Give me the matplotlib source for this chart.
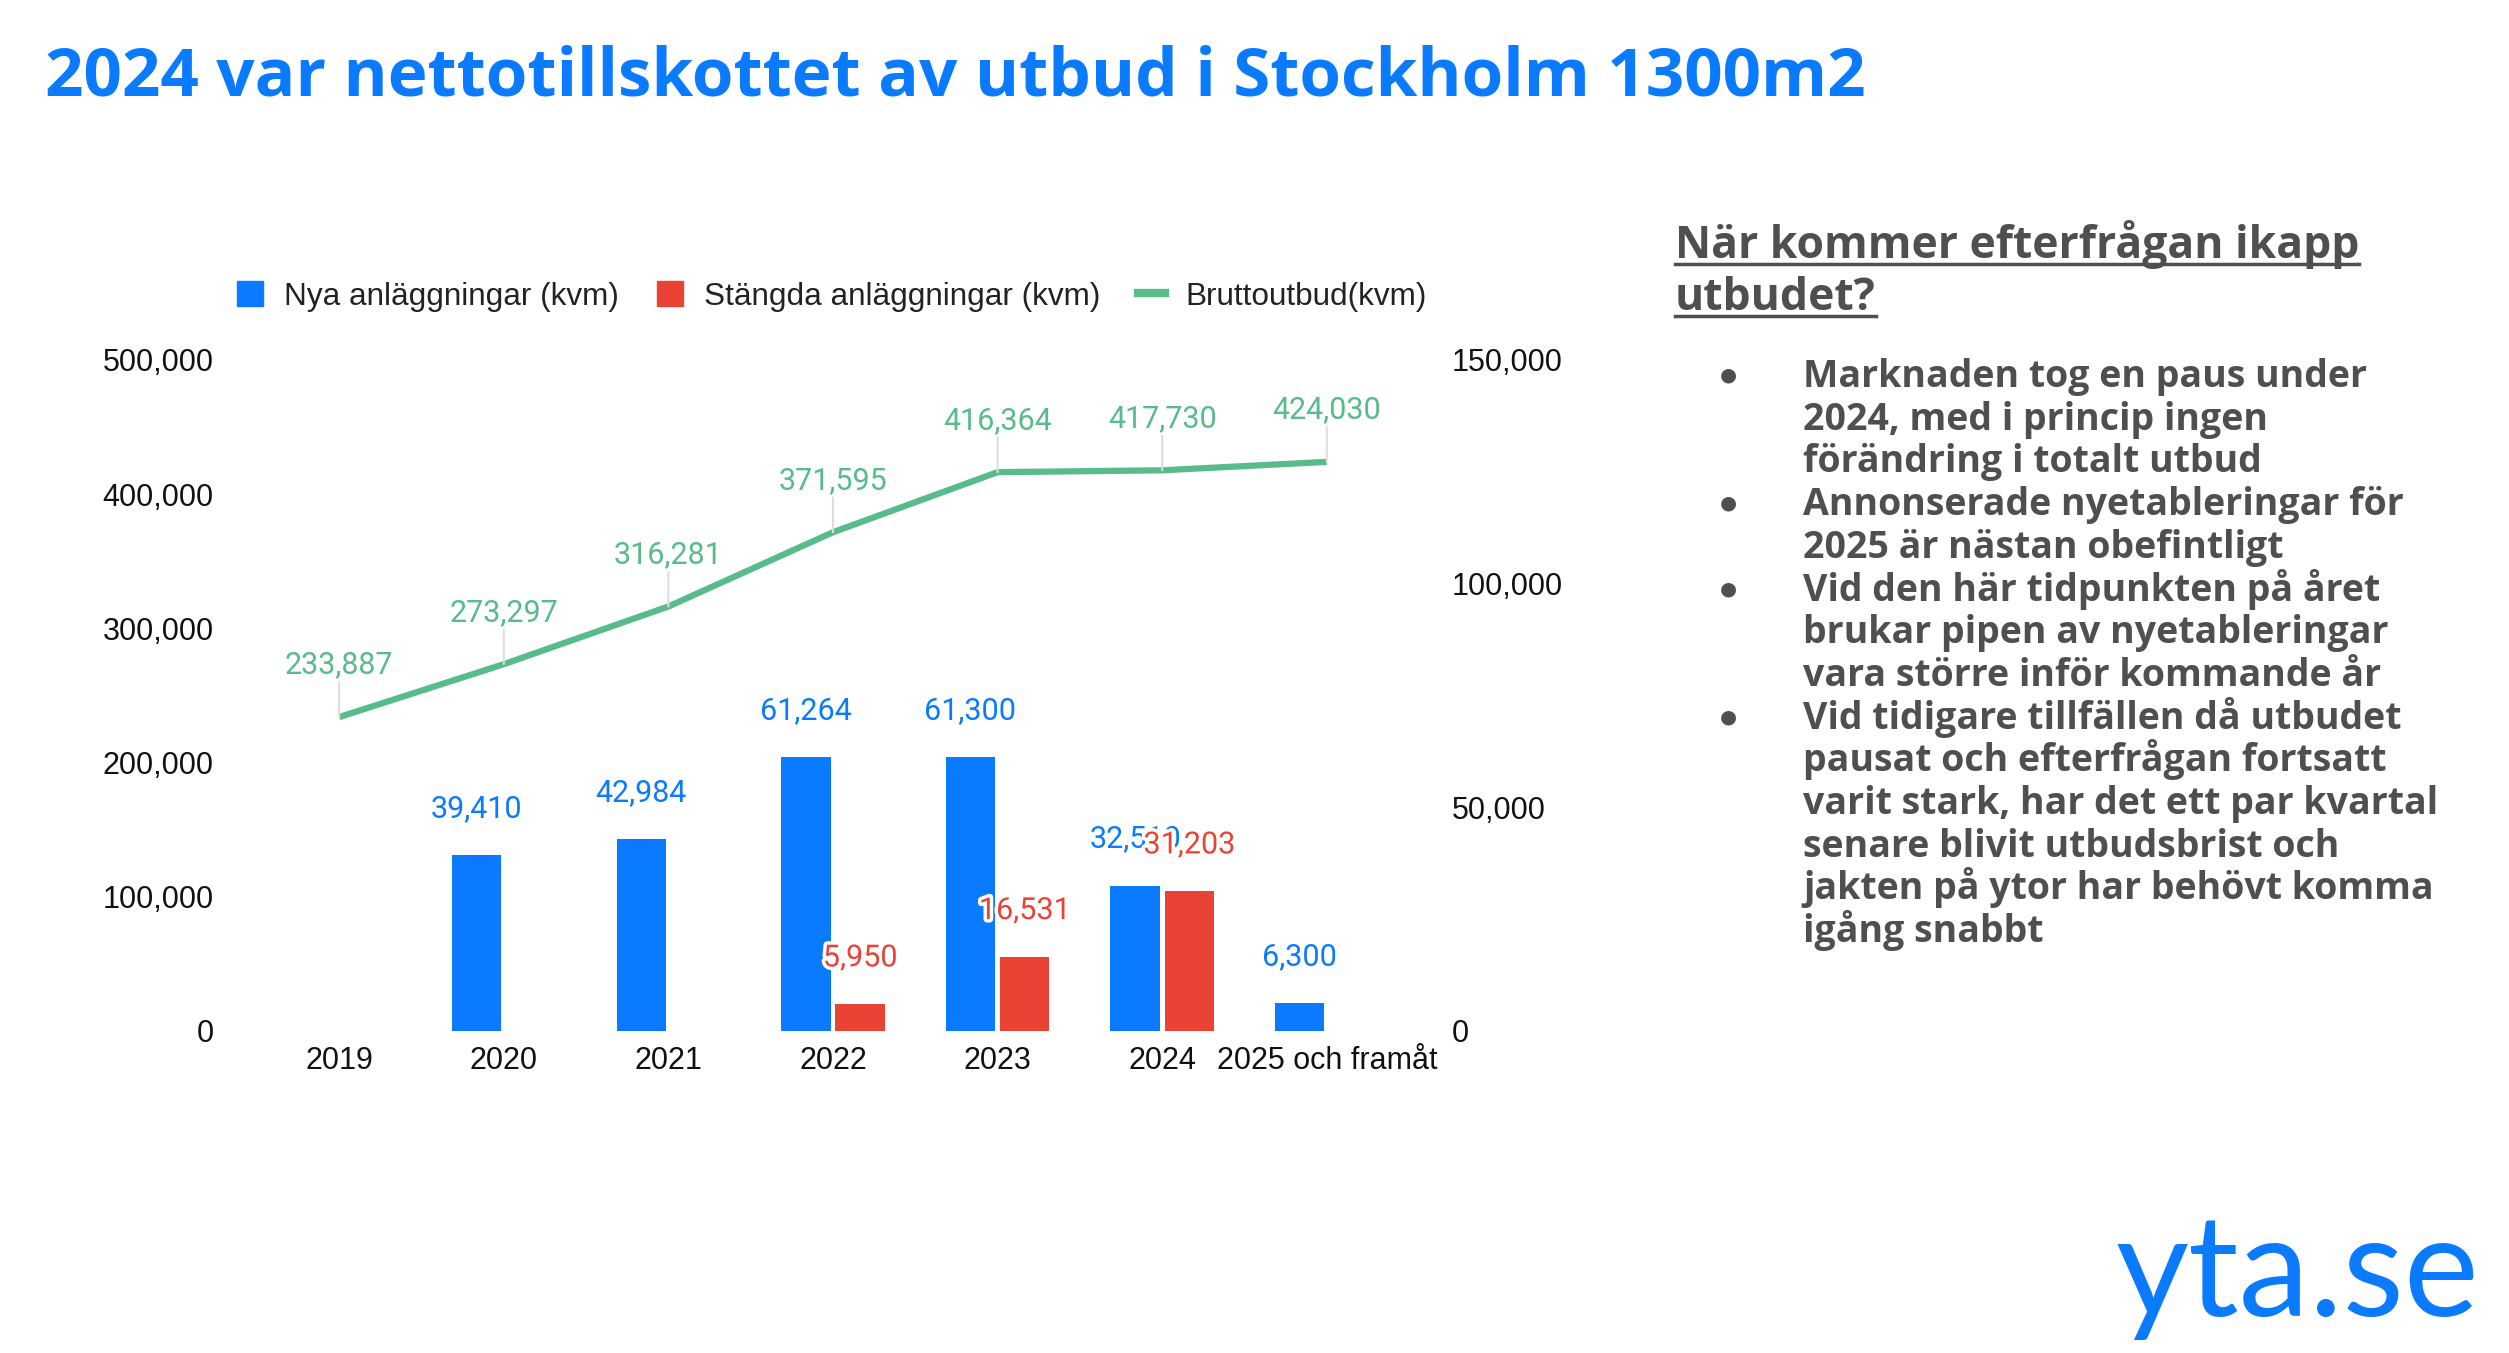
import numpy as np
import matplotlib.pyplot as plt
import matplotlib.patheffects as pe
from matplotlib.ticker import FuncFormatter
from matplotlib.patches import Patch
from matplotlib.lines import Line2D

# data
years = ['2019', '2020', '2021', '2022', '2023', '2024', '2025 och framåt']
nya = [0, 39410, 42984, 61264, 61300, 32510, 6300]
stangda = [0, 0, 0, 5950, 16531, 31203, 0]
brutto = [233887, 273297, 316281, 371595, 416364, 417730, 424030]

heading = ['När kommer efterfrågan ikapp', 'utbudet?']
bullets = [
    ['Marknaden tog en paus under', '2024, med i princip ingen', 'förändring i totalt utbud'],
    ['Annonserade nyetableringar för', '2025 är nästan obefintligt'],
    ['Vid den här tidpunkten på året', 'brukar pipen av nyetableringar', 'vara större inför kommande år'],
    ['Vid tidigare tillfällen då utbudet', 'pausat och efterfrågan fortsatt',
     'varit stark, har det ett par kvartal', 'senare blivit utbudsbrist och',
     'jakten på ytor har behövt komma', 'igång snabbt'],
]

BLUE = '#0A7BFF'
RED = '#EA4335'
GREEN = '#57BB8A'
GREY = '#4F4F4F'

W, H = 2509, 1353
fig = plt.figure(figsize=(W / 100, H / 100), dpi=100)
fmt = FuncFormatter(lambda v, p: f'{int(v):,}')

ax = fig.add_axes([0.1024, 0.238, 0.4592, 0.496])
ax2 = ax.twinx()
x = np.arange(len(years))

# bars on right axis
w = 0.30
ax2.bar(x - 0.165, nya, w, color=BLUE, zorder=2)
ax2.bar(x + 0.165, stangda, w, color=RED, zorder=2)
ax2.set_ylim(0, 150000)
ax2.set_yticks(np.arange(0, 150001, 50000))

for xi, v in zip(x, nya):
    if v > 0:
        ax2.annotate(f'{v:,}', (xi - 0.165, v), xytext=(0, 23), textcoords='offset points',
                     ha='center', va='bottom', fontsize=22, color=BLUE, family='Roboto', zorder=5)
for xi, v in zip(x, stangda):
    if v > 0:
        ax2.annotate(f'{v:,}', (xi + 0.165, v), xytext=(0, 23), textcoords='offset points',
                     ha='center', va='bottom', fontsize=22, color=RED, family='Roboto', zorder=6,
                     path_effects=[pe.withStroke(linewidth=5, foreground='white')])

# line on left axis
ax.plot(x, brutto, color=GREEN, lw=4.5, zorder=3, solid_capstyle='butt')
ax.set_ylim(0, 500000)
ax.set_yticks(np.arange(0, 500001, 100000))
for xi, v in zip(x, brutto):
    ax.annotate(f'{v:,}', (xi, v), xytext=(0, 27), textcoords='offset points',
                ha='center', va='bottom', fontsize=22, color=GREEN, family='Roboto',
                arrowprops=dict(arrowstyle='-', color='#DDDDDD', lw=1.5, shrinkA=0, shrinkB=0))
ax.set_zorder(ax2.get_zorder() + 1)
ax.patch.set_visible(False)

ax.set_xlim(-0.5, len(years) - 0.5)
ax.set_xticks(x)
ax.set_xticklabels(years)
for a in (ax, ax2):
    for s in a.spines.values():
        s.set_visible(False)
    a.yaxis.set_major_formatter(fmt)
    a.tick_params(length=0, labelsize=22, colors='#111111')
    for lab in a.get_yticklabels() + a.get_xticklabels():
        lab.set_family('Liberation Sans')
ax.tick_params(axis='y', pad=31)
ax2.tick_params(axis='y', pad=31)
ax.tick_params(axis='x', pad=11)

# legend
handles = [Patch(color=BLUE), Patch(color=RED), Line2D([0], [0], color=GREEN, lw=6)]
fig.legend(handles, ['Nya anläggningar (kvm)', 'Stängda anläggningar (kvm)', 'Bruttoutbud(kvm)'],
           loc='center left', bbox_to_anchor=(0.083, 0.781), ncol=3, frameon=False,
           prop={'family': 'Liberation Sans', 'size': 22.7}, handlelength=0.85, handleheight=0.85,
           handletextpad=0.65, columnspacing=1.2, labelcolor='#222222')

# title
fig.text(0.018, 0.942, '2024 var nettotillskottet av utbud i Stockholm 1300m2', fontsize=48.5,
         fontweight='bold', color=BLUE, family='Open Sans', va='center')

# right side text
fig.canvas.draw()
r = fig.canvas.get_renderer()
for i, ln in enumerate(heading):
    yb = 258 + 52 * i
    t = fig.text(1675 / W, 1 - yb / H, ln, fontsize=32, fontweight='bold', color=GREY,
                 family='Open Sans', va='baseline')
    bb = t.get_window_extent(renderer=r)
    yl = 1 - (yb + 6) / H
    fig.add_artist(Line2D([bb.x0 / W, bb.x1 / W], [yl, yl], color=GREY, lw=2.5))

k = 0
for b in bullets:
    fig.text(1728 / W, 1 - (387 + 42.7 * k - 12) / H, '\u25CF', fontsize=14, color=GREY,
             va='center', ha='center')
    for ln in b:
        fig.text(1803 / W, 1 - (387 + 42.7 * k) / H, ln, fontsize=27, fontweight='bold',
                 color=GREY, family='Open Sans', va='baseline')
        k += 1

fig.text(0.988, 1 - 1316 / H, 'yta.se', fontsize=102, color=BLUE, family='Lato', ha='right',
         va='baseline')

fig.savefig('out.png', dpi=100)
